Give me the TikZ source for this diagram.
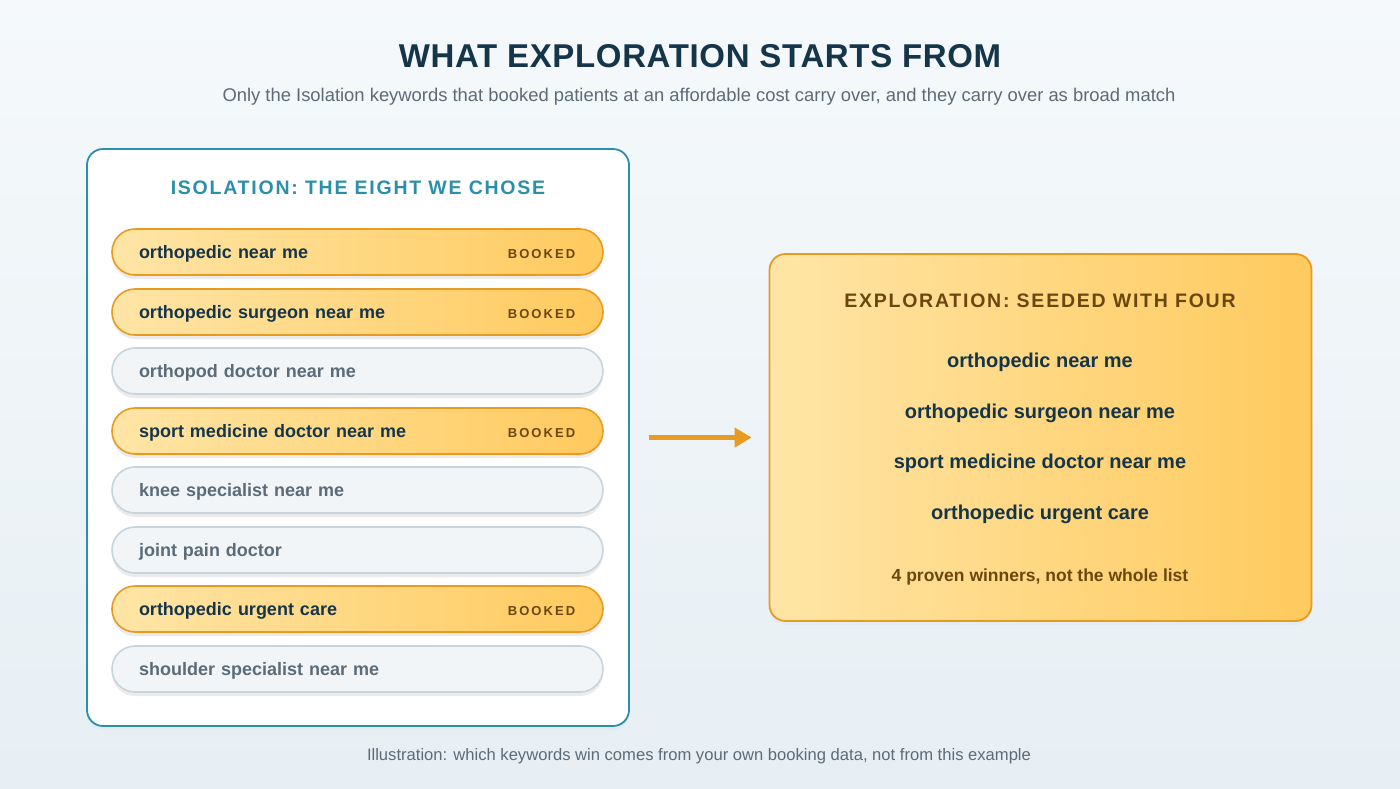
\documentclass[tikz,border=0pt]{standalone}
\usepackage{fontspec}
\setmainfont{Liberation Sans}
\newfontfamily\titlefont[LetterSpace=2]{Liberation Sans}
\newfontfamily\spacedfont[LetterSpace=9]{Liberation Sans}
\newfontfamily\bookedfont[LetterSpace=16]{Liberation Sans}
\usetikzlibrary{shadows,arrows.meta}
\definecolor{ink}{HTML}{15364A}
\definecolor{greytext}{HTML}{5B6B78}
\definecolor{teal}{HTML}{2A90AA}
\definecolor{amber}{HTML}{E89B20}
\definecolor{brown}{HTML}{6B4710}
\definecolor{goldlight}{HTML}{FFE5A6}
\definecolor{golddark}{HTML}{FFCA5E}
\definecolor{pillgrey}{HTML}{F1F5F7}
\definecolor{pilledge}{HTML}{C8D4DC}
\definecolor{bgtop}{HTML}{F5F9FB}
\definecolor{bgbottom}{HTML}{E7EFF4}
\tikzset{
  panelshadow/.style={drop shadow={shadow xshift=0pt,shadow yshift=-4pt,opacity=0.12,fill=teal!40}},
  pill/.style={rounded corners=23pt,minimum width=491pt,minimum height=46pt,
    text width=437pt,text height=17pt,text depth=5pt,align=left,inner xsep=27pt,line width=1.6pt,font=\bfseries\fontsize{18}{20}\selectfont,
    drop shadow={shadow xshift=0pt,shadow yshift=-4pt,opacity=0.08,fill=black}},
  booked/.style={pill,draw=amber,left color=goldlight,right color=golddark,text=ink},
  unbooked/.style={pill,draw=pilledge,fill=pillgrey,text=greytext},
  tag/.style={anchor=east,text=brown,font=\bookedfont\bfseries\fontsize{13}{15}\selectfont},
  winner/.style={text=ink,font=\bfseries\fontsize{20}{22}\selectfont},
  flow/.style={-{Triangle[length=17pt,width=19pt]},amber,line width=5pt}
}
\begin{document}
\begin{tikzpicture}[x=1pt,y=-1pt]
% Fond
\useasboundingbox (0,0) rectangle (1400,788);
\shade[top color=bgtop,bottom color=bgbottom] (0,0) rectangle (1400,788);
% Titre
\node[text=ink,font=\titlefont\bfseries\fontsize{33}{36}\selectfont] (title) at (700,56) {WHAT EXPLORATION STARTS FROM};
\node[text=greytext,font=\fontsize{18.4}{21}\selectfont] (subtitle) at (699,97) {Only the Isolation keywords that booked patients at an affordable cost carry over, and they carry over as broad match};
% Isolation
\node[draw=teal,line width=1.8pt,fill=white,rounded corners=16pt,minimum width=542pt,minimum height=577pt,panelshadow] (iso) at (358,437.5) {};
\node[text=teal,font=\spacedfont\bfseries\fontsize{19.5}{22}\selectfont] (isohead) at (358,188) {ISOLATION: THE EIGHT WE CHOSE};
\node[booked] (k1) at (357.5,252) {orthopedic near me};
\node[tag] at ([xshift=-25pt,yshift=-2pt]k1.east) {BOOKED};
\node[booked] (k2) at (357.5,312) {orthopedic surgeon near me};
\node[tag] at ([xshift=-25pt,yshift=-2pt]k2.east) {BOOKED};
\node[unbooked] (k3) at (357.5,371) {orthopod doctor near me};
\node[booked] (k4) at (357.5,431) {sport medicine doctor near me};
\node[tag] at ([xshift=-25pt,yshift=-2pt]k4.east) {BOOKED};
\node[unbooked] (k5) at (357.5,490) {knee specialist near me};
\node[unbooked] (k6) at (357.5,550) {joint pain doctor};
\node[booked] (k7) at (357.5,609) {orthopedic urgent care};
\node[tag] at ([xshift=-25pt,yshift=-2pt]k7.east) {BOOKED};
\node[unbooked] (k8) at (357.5,669) {shoulder specialist near me};
% Exploration
\node[draw=amber,line width=1.8pt,left color=goldlight,right color=golddark,rounded corners=16pt,minimum width=542pt,minimum height=367pt,panelshadow] (expl) at (1040.5,437.5) {};
\node[text=brown,font=\spacedfont\bfseries\fontsize{19.5}{22}\selectfont] (explhead) at (1040,301) {EXPLORATION: SEEDED WITH FOUR};
\node[winner] (w1) at (1040,362) {orthopedic near me};
\node[winner] (w2) at (1040,413) {orthopedic surgeon near me};
\node[winner] (w3) at (1040,463) {sport medicine doctor near me};
\node[winner] (w4) at (1040,514) {orthopedic urgent care};
\node[text=brown,font=\bfseries\fontsize{17.5}{20}\selectfont] (explnote) at (1040,577) {4 proven winners, not the whole list};
% Fleche
\draw[flow,shorten <=19pt,shorten >=17pt] (iso.east) -- (expl.west);
% Legende
\node[text=greytext,font=\fontsize{16.6}{19}\selectfont] (caption) at (699,756) {Illustration: which keywords win comes from your own booking data, not from this example};
\end{tikzpicture}
\end{document}
